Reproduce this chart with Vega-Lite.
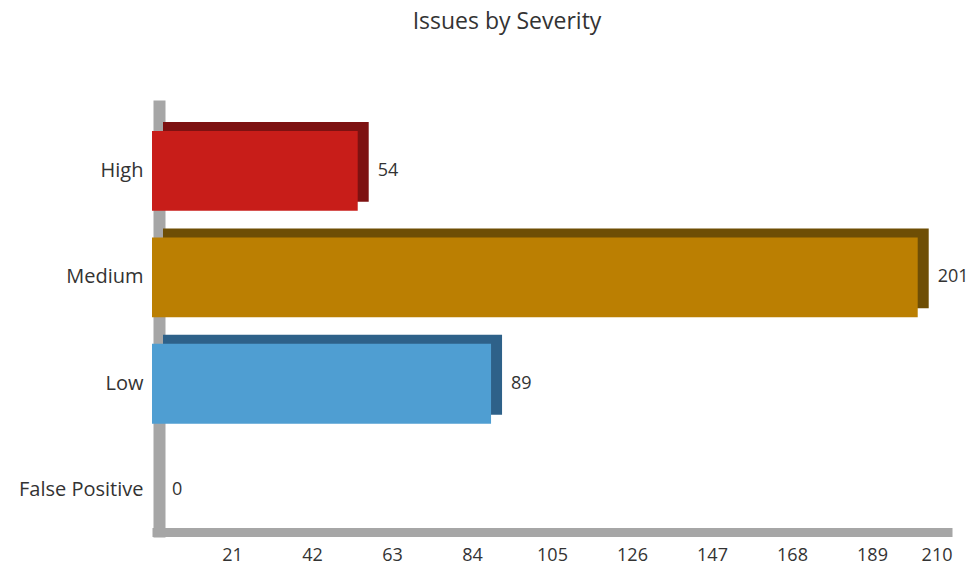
{
  "$schema": "https://vega.github.io/schema/vega-lite/v6.json",
  "autosize": "none",
  "width": 800,
  "height": 437,
  "padding": {"left": 152, "top": 100, "right": 22, "bottom": 31},
  "background": "white",
  "config": {"view": {"stroke": null}, "font": "Open Sans"},
  "title": {"text": "Issues by Severity", "fontSize": 23, "fontWeight": "normal", "font": "Open Sans", "color": "#333333", "anchor": "middle", "dx": -45, "offset": 66},
  "data": {"values": [
    {"severity": "High", "count": 54},
    {"severity": "Medium", "count": 201},
    {"severity": "Low", "count": 89},
    {"severity": "False Positive", "count": 0}
  ]},
  "encoding": {
    "y": {"field": "severity", "type": "nominal", "sort": ["High", "Medium", "Low", "False Positive"],
      "scale": {"paddingInner": 0.25, "paddingOuter": 0.177, "align": 0.82},
      "axis": {"title": null, "ticks": false, "tickSize": 0, "domainColor": "#a6a6a6", "domainWidth": 12, "offset": -7, "labelPadding": 16, "labelFontSize": 20, "labelColor": "#333333", "labelFont": "Open Sans", "grid": false}},
    "x": {"field": "count", "type": "quantitative",
      "scale": {"domain": [0, 210], "nice": false, "zero": true},
      "axis": {"title": null, "values": [21, 42, 63, 84, 105, 126, 147, 168, 189, 210], "ticks": false, "tickSize": 0, "domainColor": "#a6a6a6", "domainWidth": 9, "offset": -5, "labelPadding": 14, "labelFontSize": 18, "labelColor": "#333333", "labelFont": "Open Sans", "grid": false}}
  },
  "layer": [
    {
      "mark": {"type": "bar", "xOffset": 11, "x2Offset": 11, "yOffset": -9},
      "encoding": {"color": {"field": "severity", "type": "nominal", "legend": null,
        "scale": {"domain": ["High", "Medium", "Low", "False Positive"], "range": ["#7d1111", "#6e4e05", "#2e6189", "#8c8c8c"]}}}
    },
    {
      "mark": {"type": "bar"},
      "encoding": {"color": {"field": "severity", "type": "nominal", "legend": null,
        "scale": {"domain": ["High", "Medium", "Low", "False Positive"], "range": ["#c81d19", "#bb7f02", "#4f9ed2", "#bbbbbb"]}}}
    },
    {
      "mark": {"type": "text", "align": "left", "baseline": "middle", "dx": 20, "fontSize": 18, "font": "Open Sans", "color": "#333333"},
      "encoding": {"text": {"field": "count", "type": "quantitative"}}
    }
  ],
  "resolve": {"scale": {"color": "independent"}}
}
